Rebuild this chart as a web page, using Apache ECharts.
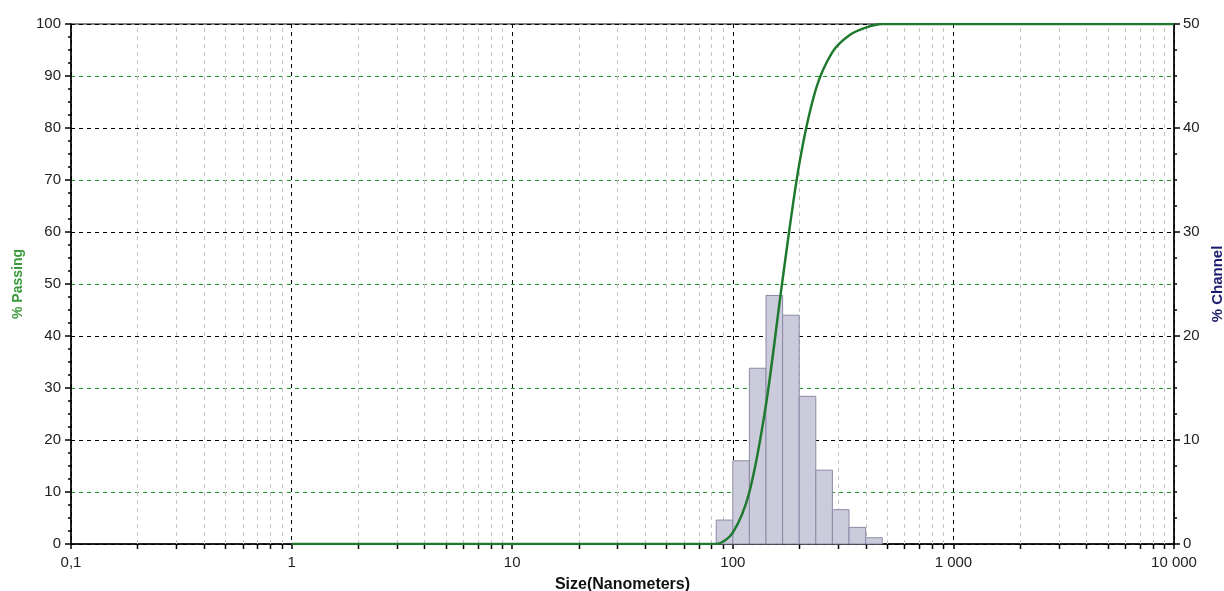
<!DOCTYPE html>
<html>
<head>
<meta charset="utf-8">
<script src="https://cdn.jsdelivr.net/npm/echarts@6/dist/echarts.min.js"></script>
<style>
  html, body { margin: 0; padding: 0; background: #fff; }
  #chart { width: 1224px; height: 591px; }
</style>
</head>
<body>
<div id="chart"></div>
<script>
// histogram bins (nm) and % channel
const binLow = [84.1, 100, 118.9, 141.4, 168.2, 200, 237.8, 282.8, 336.4, 400]
const binHigh = [100, 118.9, 141.4, 168.2, 200, 237.8, 282.8, 336.4, 400, 475.7]
const channel = [2.3, 8.0, 16.9, 23.9, 22.0, 14.2, 7.1, 3.3, 1.6, 0.6]

// cumulative % passing curve
const passSize = [1, 84.1, 100, 118.9, 141.4, 168.2, 200, 237.8, 282.8, 336.4, 400, 475.7, 10000]
const passing = [0, 0, 2.2, 10.0, 26.8, 50.9, 73.0, 87.4, 94.6, 97.8, 99.3, 100, 100]

// minor log ticks (2..9 in each decade)
const minorTicks = [
  0.2, 0.3, 0.4, 0.5, 0.6, 0.7, 0.8, 0.9,
  2, 3, 4, 5, 6, 7, 8, 9,
  20, 30, 40, 50, 60, 70, 80, 90,
  200, 300, 400, 500, 600, 700, 800, 900,
  2000, 3000, 4000, 5000, 6000, 7000, 8000, 9000
]

const font = 'Liberation Sans, Arial, sans-serif'

function fmtX (v) {
  if (v < 1) return String(v).replace('.', ',')
  return String(Math.round(v)).replace(/\B(?=(\d{3})+(?!\d))/g, ' ')
}

const chart = echarts.init(document.getElementById('chart'))
chart.setOption({
  animation: false,
  backgroundColor: '#fff',
  grid: {
    left: 71, right: 50, top: 24, bottom: 47,
    containLabel: false, outerBoundsMode: 'none',
    show: true, borderColor: '#000', borderWidth: 1
  },
  xAxis: {
    type: 'log',
    logBase: 10,
    min: 0.1,
    max: 10000,
    name: 'Size(Nanometers)',
    nameLocation: 'middle',
    nameGap: 33,
    nameTextStyle: { fontFamily: font, fontSize: 16, fontWeight: 'bold', color: '#111' },
    axisLine: { onZero: false, lineStyle: { color: '#000', width: 1.5 } },
    axisTick: { show: true, length: 5, lineStyle: { color: '#000', width: 1.5 } },
    axisLabel: { formatter: fmtX, fontFamily: font, fontSize: 15, color: '#222', margin: 11 },
    splitLine: { show: true, lineStyle: { color: '#000', type: [4, 4], width: 1 } }
  },
  yAxis: [
    {
      type: 'value',
      min: 0,
      max: 100,
      interval: 10,
      name: '% Passing',
      nameLocation: 'middle',
      nameRotate: 90,
      nameGap: 46,
      nameTextStyle: { fontFamily: font, fontSize: 14, fontWeight: 'bold', color: '#3a9a3a' },
      axisLine: { show: true, lineStyle: { color: '#000', width: 1.5 } },
      axisTick: { show: true, length: 6, lineStyle: { color: '#000', width: 1.5 } },
      minorTick: { show: true, splitNumber: 4, length: 3, lineStyle: { color: '#000', width: 1.5 } },
      axisLabel: { fontFamily: font, fontSize: 15, color: '#222', margin: 10 },
      splitLine: { show: true, lineStyle: { color: '#1f9a1f', type: [4, 4], width: 1 } }
    },
    {
      type: 'value',
      min: 0,
      max: 50,
      interval: 10,
      position: 'right',
      name: '% Channel',
      nameLocation: 'middle',
      nameRotate: 90,
      nameGap: 34,
      nameTextStyle: { fontFamily: font, fontSize: 15, fontWeight: 'bold', color: '#1c1c6c' },
      axisLine: { show: true, lineStyle: { color: '#000', width: 1.5 } },
      axisTick: { show: true, length: 6, lineStyle: { color: '#000', width: 1.5 } },
      minorTick: { show: true, splitNumber: 4, length: 3, lineStyle: { color: '#000', width: 1.5 } },
      axisLabel: { fontFamily: font, fontSize: 15, color: '#222', margin: 9 },
      splitLine: { show: true, lineStyle: { color: '#000', type: [4, 4], width: 1 } }
    }
  ],
  series: [
    {
      // minor log grid lines and bottom ticks
      type: 'custom',
      z: 1,
      clip: false,
      silent: true,
      yAxisIndex: 0,
      data: minorTicks.map(v => [v, 0]),
      renderItem: function (params, api) {
        const bottom = api.coord([api.value(0), 0])
        const top = api.coord([api.value(0), 100])
        const x = Math.round(bottom[0]) + 0.5
        return {
          type: 'group',
          children: [
            {
              type: 'line',
              shape: { x1: x, y1: bottom[1], x2: x, y2: top[1] },
              style: { stroke: '#c4c4c4', lineWidth: 1, lineDash: [4, 4] }
            },
            {
              type: 'line',
              shape: { x1: x, y1: bottom[1], x2: x, y2: bottom[1] + 5 },
              style: { stroke: '#000', lineWidth: 1.5 }
            }
          ]
        }
      }
    },
    {
      type: 'custom',
      z: 3,
      yAxisIndex: 1,
      data: binLow.map((lo, i) => [lo, binHigh[i], channel[i]]),
      encode: { x: [0, 1], y: 2 },
      renderItem: function (params, api) {
        const p0 = api.coord([api.value(0), 0])
        const p1 = api.coord([api.value(1), api.value(2)])
        return {
          type: 'rect',
          shape: { x: p0[0], y: p1[1], width: p1[0] - p0[0], height: p0[1] - p1[1] },
          style: { fill: '#cbcbdb', stroke: '#8a8aa6', lineWidth: 1 }
        }
      }
    },
    {
      type: 'line',
      z: 4,
      yAxisIndex: 0,
      data: passSize.map((s, i) => [s, passing[i]]),
      symbol: 'none',
      smooth: 0.3,
      lineStyle: { color: '#1f7a30', width: 2.5 }
    }
  ]
})
</script>
</body>
</html>
